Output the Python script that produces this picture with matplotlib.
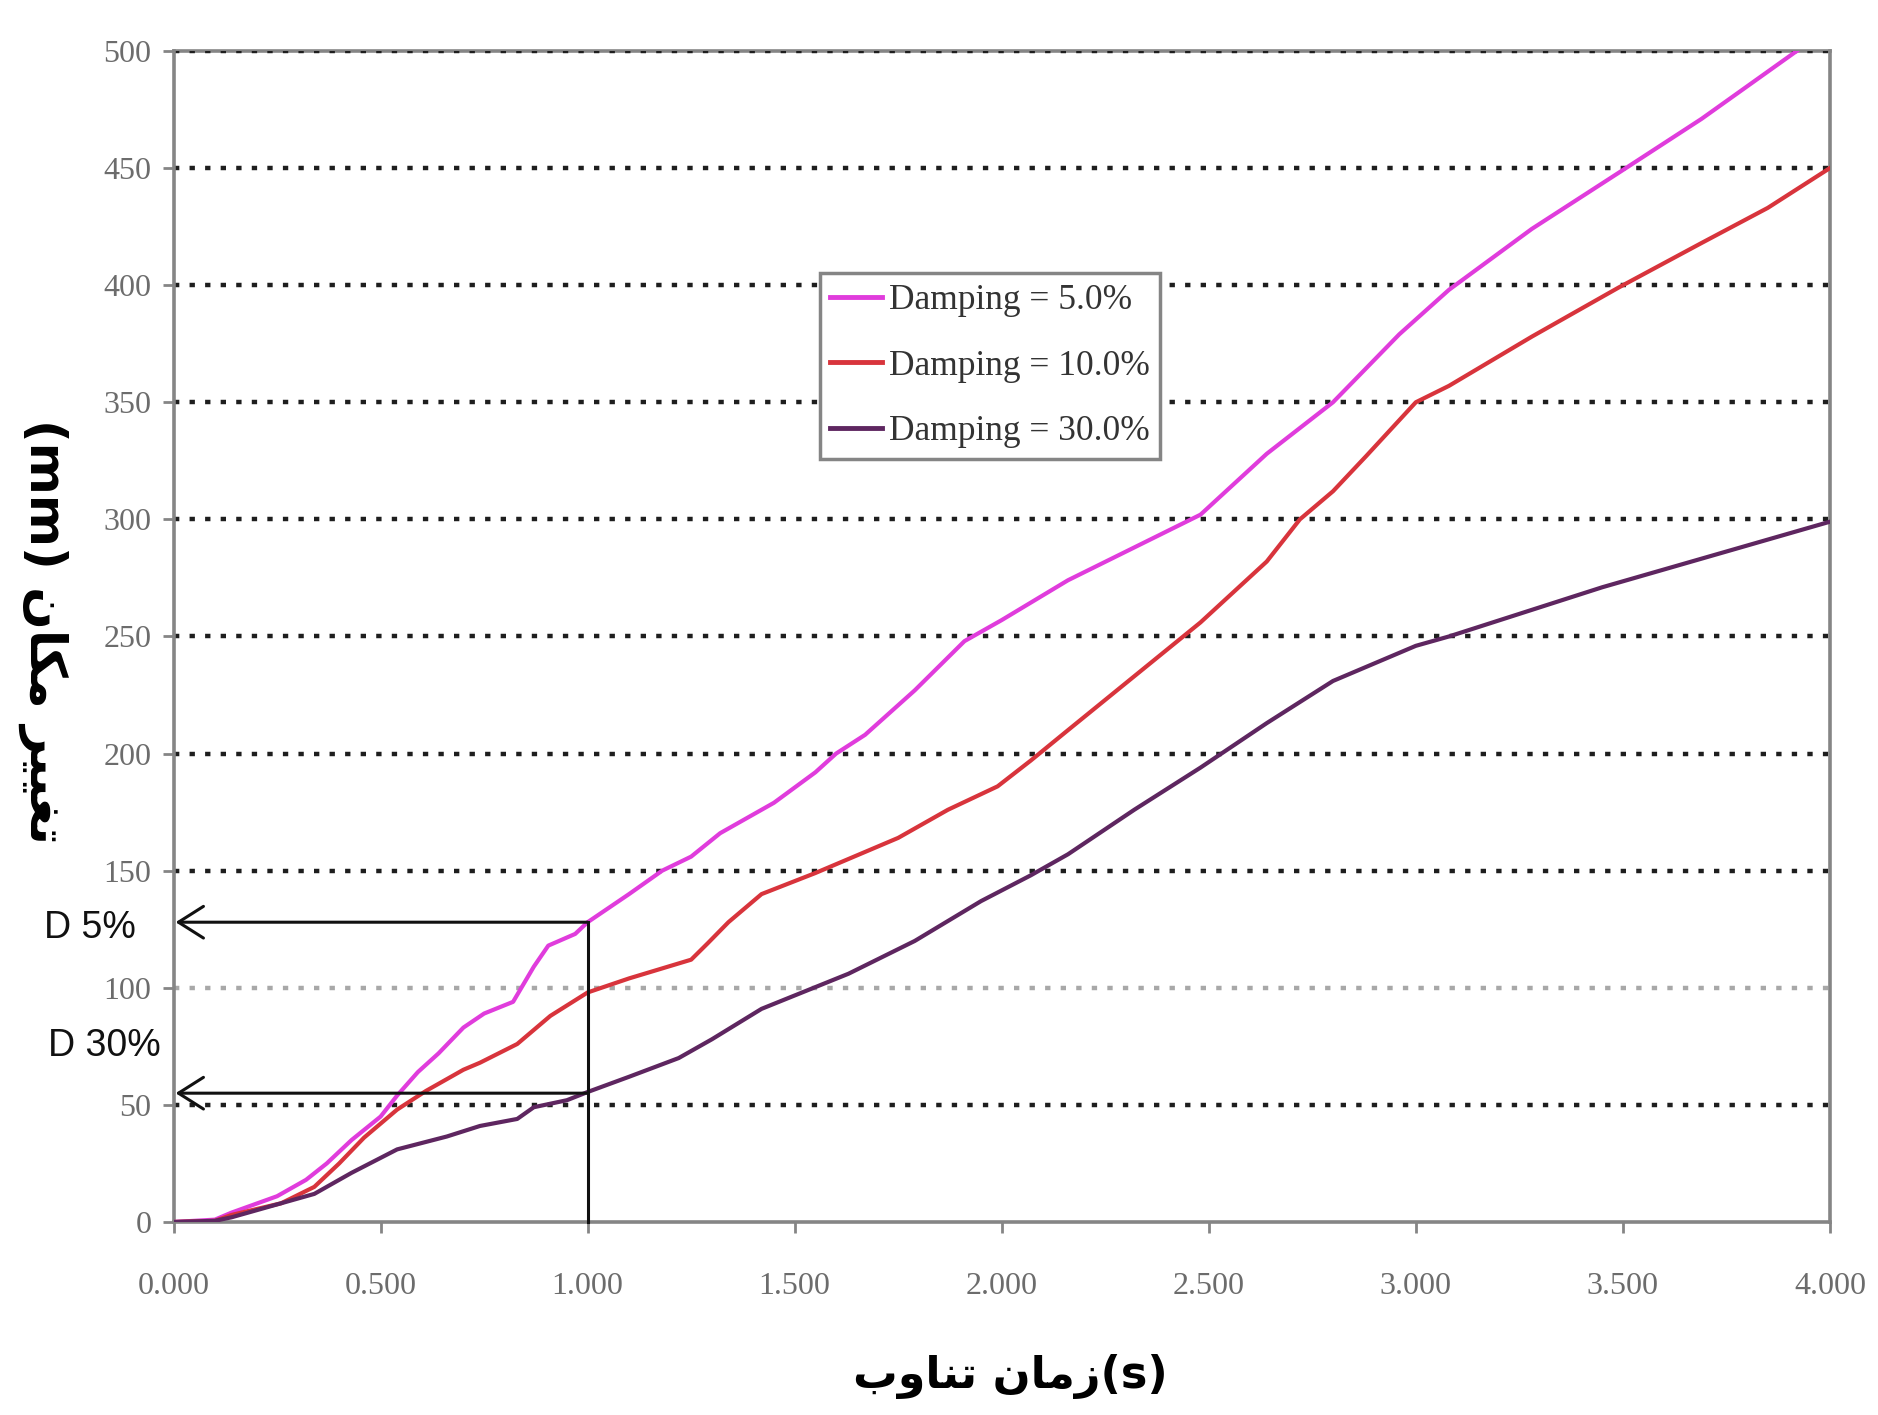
import numpy as np
import matplotlib
matplotlib.use("Agg")
import matplotlib.pyplot as plt
from matplotlib.transforms import blended_transform_factory

# Damping = 5.0%
x_d5 = [0.00, 0.10, 0.14, 0.25, 0.32, 0.37, 0.43, 0.50, 0.54, 0.59, 0.64, 0.70, 0.75,
        0.82, 0.87, 0.905, 0.97, 1.00, 1.10, 1.18, 1.25, 1.32, 1.45, 1.55, 1.60, 1.67,
        1.79, 1.91, 2.00, 2.16, 2.32, 2.48, 2.64, 2.80, 2.96, 3.08, 3.28, 3.49, 3.69, 3.92]
y_d5 = [0, 1, 4, 11, 18, 25, 35, 45, 54, 64, 72, 83, 89,
        94, 109, 118, 123, 128, 140, 150, 156, 166, 179, 192, 200, 208,
        227, 248, 257, 274, 288, 302, 328, 350, 379, 398, 424, 448, 471, 500]

# Damping = 10.0%
x_d10 = [0.00, 0.10, 0.14, 0.26, 0.34, 0.40, 0.46, 0.54, 0.61, 0.70, 0.74, 0.83, 0.91,
         1.00, 1.10, 1.25, 1.29, 1.34, 1.42, 1.55, 1.63, 1.75, 1.87, 1.99, 2.07, 2.16,
         2.32, 2.48, 2.64, 2.72, 2.80, 2.88, 3.00, 3.08, 3.28, 3.49, 3.69, 3.85, 4.00]
y_d10 = [0, 0.5, 3, 8, 15, 25, 36, 48, 56, 65, 68, 76, 88,
         98, 104, 112, 119, 128, 140, 149, 155, 164, 176, 186, 197, 210,
         233, 256, 282, 300, 312, 327, 350, 357, 378, 399, 418, 433, 450]

# Damping = 30.0%
x_d30 = [0.00, 0.10, 0.14, 0.34, 0.43, 0.54, 0.66, 0.74, 0.83, 0.87, 0.95, 1.00, 1.10,
         1.22, 1.30, 1.42, 1.63, 1.79, 1.95, 2.07, 2.16, 2.32, 2.48, 2.64, 2.80, 3.00,
         3.08, 3.45, 4.00]
y_d30 = [0, 0.5, 2, 12, 21, 31, 36.5, 41, 44, 49, 52, 55.5, 62,
         70, 78, 91, 106, 120, 137, 148, 157, 176, 194, 213, 231, 246,
         250, 271, 299]

labels = ["Damping = 5.0%", "Damping = 10.0%", "Damping = 30.0%"]
colors = ["#E03CDC", "#D8343C", "#5E2660"]

x_ticks = [0.0, 0.5, 1.0, 1.5, 2.0, 2.5, 3.0, 3.5, 4.0]
y_ticks = [0, 50, 100, 150, 200, 250, 300, 350, 400, 450, 500]

# period mark and the two read-off levels
t_mark = 1.0
d5_level = 128
d30_level = 55

# Persian labels, written in shaped (presentation) forms in visual order
xlabel_txt = "\uFE8F\uFEED\uFE8E\uFEE8\uFE97 \uFEE5\uFE8E\uFEE3\uFEAF(s)"
ylabel_txt = "(mm) \uFEE5\uFE8E\uFB91\uFEE3 \uFEAE\uFBFF\uFBFF\uFED0\uFE97"

GRAY = "#858585"


def main():
    fig = plt.figure(figsize=(18.78, 14.15), dpi=100)
    ax = fig.add_axes([0.0924, 0.1364, 0.882, 0.8276])

    for xs, ys, lab, col in zip([x_d5, x_d10, x_d30], [y_d5, y_d10, y_d30], labels, colors):
        ax.plot(xs, ys, color=col, linewidth=3.0, label=lab, zorder=3)

    ax.set_xlim(0, 4)
    ax.set_ylim(0, 500)
    ax.set_xticks(x_ticks)
    ax.set_xticklabels(["%.3f" % v for v in x_ticks])
    ax.set_yticks(y_ticks)

    ax.yaxis.grid(True, color="#1e1e1e", linestyle=(0, (1.2, 2.3)), linewidth=3.2)
    glines = ax.get_ygridlines()
    glines[0].set_visible(False)
    glines[2].set_color("#a8a8a8")

    for name, sp in ax.spines.items():
        sp.set_color(GRAY)
        sp.set_linewidth(2.6)
    ax.spines["top"].set_zorder(1)

    for lab in ax.get_xticklabels() + ax.get_yticklabels():
        lab.set_fontfamily("Liberation Serif")
    ax.tick_params(axis="both", direction="out", length=8, width=2,
                   color=GRAY, labelcolor="#6c6c6c", labelsize=23)
    ax.tick_params(axis="x", pad=28)
    ax.tick_params(axis="y", pad=8)

    # read-off lines
    ax.plot([t_mark, t_mark], [0, d5_level], color="#111111", linewidth=2.2, zorder=4,
            clip_on=False)
    for lev in (d5_level, d30_level):
        ax.annotate("", xy=(0.005, lev), xytext=(t_mark, lev),
                    arrowprops=dict(arrowstyle="->,head_length=0.6,head_width=0.38",
                                    color="#111111", lw=2.2, shrinkA=0, shrinkB=0,
                                    mutation_scale=30),
                    zorder=4)

    trans = blended_transform_factory(ax.transAxes, ax.transData)
    ax.text(-0.078, 125.5, "D 5%", transform=trans, ha="left", va="center",
            fontsize=27, family="Liberation Sans", color="#111111")
    ax.text(-0.0755, 75.3, "D 30%", transform=trans, ha="left", va="center",
            fontsize=27, family="Liberation Sans", color="#111111")

    leg = ax.legend(loc="upper left", bbox_to_anchor=(0.390, 0.810), borderaxespad=0,
                    frameon=True, fancybox=False, framealpha=1, edgecolor=GRAY,
                    prop={"family": "Liberation Serif", "size": 25.5},
                    handlelength=1.45, handletextpad=0.2, borderpad=0.3,
                    labelspacing=0.92)
    leg.get_frame().set_linewidth(2.5)
    for line in leg.get_lines():
        line.set_linewidth(3.5)
    for t in leg.get_texts():
        t.set_color("#333333")

    fig.text(0.538, 0.027, xlabel_txt, ha="center", va="center", fontsize=32,
             fontweight="bold", family="DejaVu Sans")
    fig.text(0.023, 0.5534, ylabel_txt, ha="center", va="center", fontsize=36,
             fontweight="bold", family="DejaVu Sans", rotation=270)

    fig.savefig("out.png", dpi=100)


if __name__ == "__main__":
    main()
